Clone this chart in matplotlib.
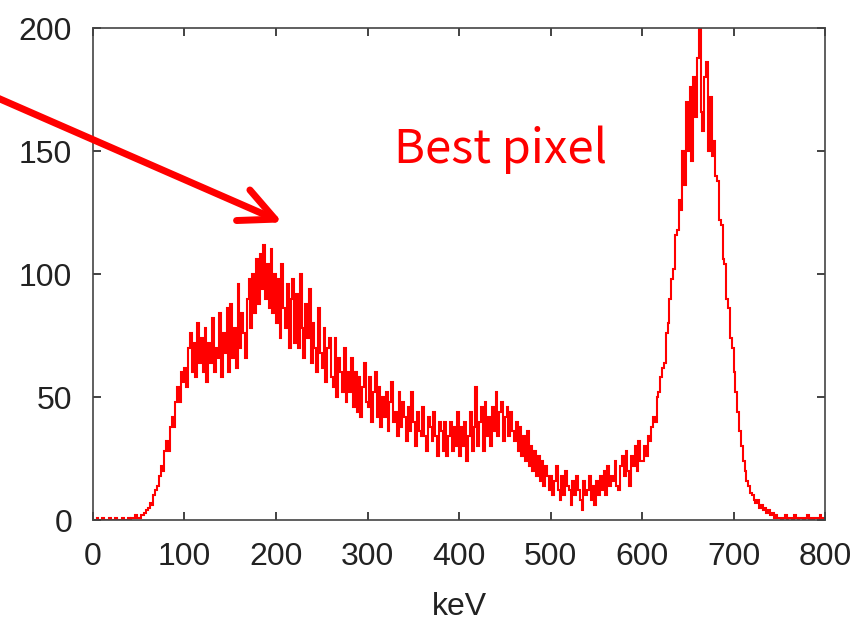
import numpy as np
import matplotlib
matplotlib.use("Agg")
import matplotlib.pyplot as plt

# spectrum counts, 2 keV bins from 0 to 800 keV
bin_width = 2
counts = [
    # 0-50
    0, 0, 1, 0, 0, 1, 0, 0, 0, 1, 0, 0, 1, 0, 0, 0, 1, 0, 0, 1, 0, 1, 1, 2, 1,
    # 50-100
    1, 2, 2, 3, 4, 5, 7, 6, 10, 12, 14, 18, 22, 20, 28,
    32, 28, 38, 42, 38, 48, 54, 48, 60, 56,
    # 100-200
    62, 54, 70, 76, 60, 72, 58, 80, 64, 74,
    60, 78, 56, 72, 64, 82, 60, 70, 66, 84,
    58, 76, 68, 86, 60, 88, 66, 78, 62, 96,
    70, 84, 76, 66, 90, 98, 78, 100, 84, 106,
    88, 108, 94, 112, 90, 104, 86, 110, 84, 100,
    # 200-300
    80, 98, 74, 104, 86, 78, 96, 70, 90, 98,
    72, 92, 70, 100, 78, 66, 88, 74, 94, 64,
    80, 70, 60, 86, 68, 62, 78, 56, 70, 74,
    58, 54, 74, 50, 66, 60, 52, 70, 48, 60,
    52, 66, 46, 60, 44, 58, 42, 54, 64, 48,
    # 300-400
    46, 58, 40, 52, 60, 42, 54, 38, 50, 42,
    52, 36, 48, 56, 40, 44, 34, 52, 38, 48,
    42, 32, 46, 36, 52, 40, 30, 44, 36, 34,
    46, 34, 28, 42, 38, 32, 44, 34, 26, 40,
    36, 28, 40, 26, 34, 40, 28, 38, 30, 44,
    # 400-500
    26, 38, 30, 40, 24, 34, 44, 28, 38, 54,
    30, 40, 46, 28, 48, 34, 42, 30, 46, 36,
    52, 34, 44, 48, 32, 42, 46, 34, 44, 36,
    32, 40, 28, 38, 26, 34, 24, 36, 22, 30,
    20, 28, 18, 26, 16, 24, 14, 22, 18, 12,
    # 500-600
    18, 10, 16, 22, 12, 8, 18, 10, 20, 14,
    12, 6, 16, 10, 18, 12, 8, 4, 16, 10,
    12, 18, 8, 14, 6, 16, 10, 18, 12, 20,
    10, 22, 14, 18, 16, 24, 14, 12, 22, 26,
    18, 28, 20, 14, 26, 22, 30, 20, 32, 24,
    # 600-700
    24, 30, 26, 34, 32, 38, 42, 40, 50, 52,
    58, 62, 64, 76, 80, 90, 98, 102, 116, 118,
    130, 126, 150, 136, 170, 150, 176, 146, 180, 164,
    188, 200, 166, 158, 180, 186, 150, 172, 148, 154,
    140, 138, 122, 120, 106, 104, 90, 86, 74, 70,
    # 700-800
    60, 52, 44, 36, 30, 24, 20, 16, 14, 11, 10, 8, 7, 8, 5,
    6, 4, 5, 3, 4, 2, 3, 1, 2, 1,
    1, 0, 1, 2, 0, 1, 1, 0, 2, 1, 0, 1, 1, 0, 1, 2, 0, 1, 0, 1, 1, 0, 2, 1, 1,
]
edges = np.arange(len(counts) + 1) * bin_width

x_ticks = [0, 100, 200, 300, 400, 500, 600, 700, 800]
y_ticks = [0, 50, 100, 150, 200]

plt.rcParams['font.family'] = ['Liberation Sans', 'DejaVu Sans']

fig = plt.figure(figsize=(8.57, 6.23), dpi=100)
ax = fig.add_axes([0.1085, 0.1653, 0.8542, 0.7897])

ax.stairs(counts, edges, color='#ff0000', linewidth=1.5)

ax.set_xlim(0, 800)
ax.set_ylim(0, 200)
ax.set_xticks(x_ticks)
ax.set_yticks(y_ticks)
ax.tick_params(direction='in', top=True, right=True, length=6, width=1.2,
               labelsize=23, colors='#222222')
ax.tick_params(axis='y', pad=15)
ax.tick_params(axis='x', pad=16)
for s in ax.spines.values():
    s.set_color('#444444')
    s.set_linewidth(1.2)
ax.set_xlabel('keV', fontsize=23, color='#222222', labelpad=14)

# arrow pointing at the Compton edge region
ax.annotate('', xy=(207, 121), xytext=(-113, 173),
            arrowprops=dict(arrowstyle='->, head_length=2.5, head_width=1.2',
                            color='#ff0000', lw=5, shrinkA=0, shrinkB=0,
                            capstyle='round'),
            annotation_clip=False)

ax.text(445, 145, 'Best pixel', color='#ff0000', fontsize=34,
        ha='center', va='baseline', family=['Noto Sans CJK JP', 'DejaVu Sans'])

fig.savefig('out.png', dpi=100)
